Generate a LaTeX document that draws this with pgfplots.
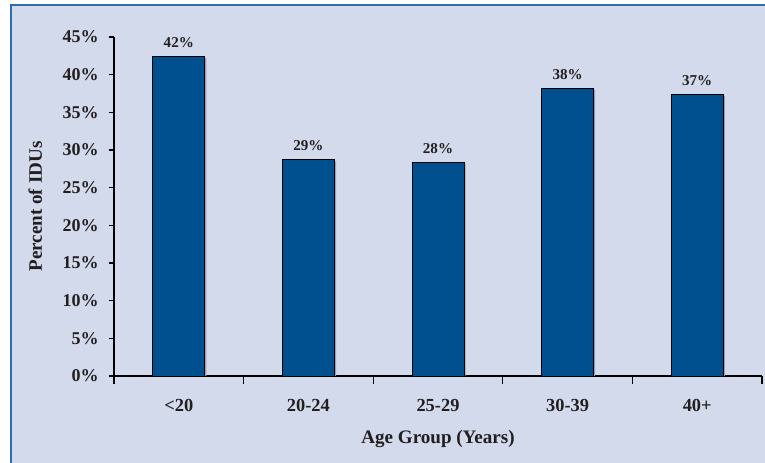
\documentclass[border=0pt]{standalone}
\usepackage{fontspec}
\setmainfont{Liberation Serif}
\usepackage{pgfplots}
\pgfplotsset{compat=1.18}
\definecolor{bgc}{HTML}{D2DAEC}
\definecolor{framec}{HTML}{2F6CB0}
\definecolor{barc}{HTML}{00508F}
\definecolor{txt}{HTML}{231F20}
\definecolor{shadowc}{HTML}{9AA0B0}
\begin{document}
\begin{tikzpicture}
\path[use as bounding box] (0,0) rectangle (573.75pt,347.25pt);
\fill[white] (0,0) rectangle (573.75pt,347.25pt);
\fill[bgc] (8.25pt,0) rectangle (573.75pt,343.5pt);
\draw[framec, line width=2.2pt] (8.25pt,0) -- (8.25pt,343.5pt) -- (573.75pt,343.5pt);
\begin{axis}[
  at={(85.5pt,65.25pt)}, anchor=south west,
  scale only axis, width=486pt, height=254.25pt,
  ymin=0, ymax=45, ytick={0,5,...,45},
  xmin=-0.5, xmax=4.5, xtick={0,...,4},
  xticklabels={{<20},{20-24},{25-29},{30-39},{40+}},
  minor xtick={-0.5,0.5,...,4.5},
  axis lines=left,
  axis line style={-, black, line width=0.8pt},
  tick align=outside,
  major tick length=4pt,
  minor tick length=6pt,
  major x tick style={draw=none},
  minor x tick style={black, line width=0.8pt},
  major y tick style={black, line width=0.8pt},
  /pgf/number format/assume math mode=true,
  yticklabel={\pgfmathprintnumber{\tick}\%},
  yticklabel style={font=\fontsize{13.5}{15}\selectfont\bfseries, text=txt, xshift=-4pt},
  xticklabel style={font=\fontsize{13.8}{15}\selectfont\bfseries, text=txt, yshift=-10pt},
  xlabel={Age Group (Years)},
  ylabel={Percent of IDUs},
  every axis x label/.style={at={(axis description cs:0.5,0)}, anchor=center, yshift=-47pt, font=\fontsize{14.3}{16}\selectfont\bfseries, text=txt},
  every axis y label/.style={at={(axis description cs:0,0.5)}, anchor=center, xshift=-59pt, rotate=90, font=\fontsize{14.3}{16}\selectfont\bfseries, text=txt},
  ybar, bar width=39pt,
  clip=false,
]
\addplot[fill=shadowc, draw=none, bar shift=1.2pt, forget plot] coordinates {
  (0,42.2) (1,28.5) (2,28.2) (3,38.0) (4,37.2)
};
\addplot[fill=barc, draw=black, line width=0.6pt, bar shift=0pt,
  nodes near coords={\pgfmathprintnumber[fixed,precision=0]{\pgfplotspointmeta}\%},
  nodes near coords style={font=\fontsize{11.3}{13}\selectfont\bfseries, text=txt, yshift=3pt}] coordinates {
  (0,42.4) (1,28.7) (2,28.4) (3,38.2) (4,37.4)
};
\end{axis}
\end{tikzpicture}
\end{document}
